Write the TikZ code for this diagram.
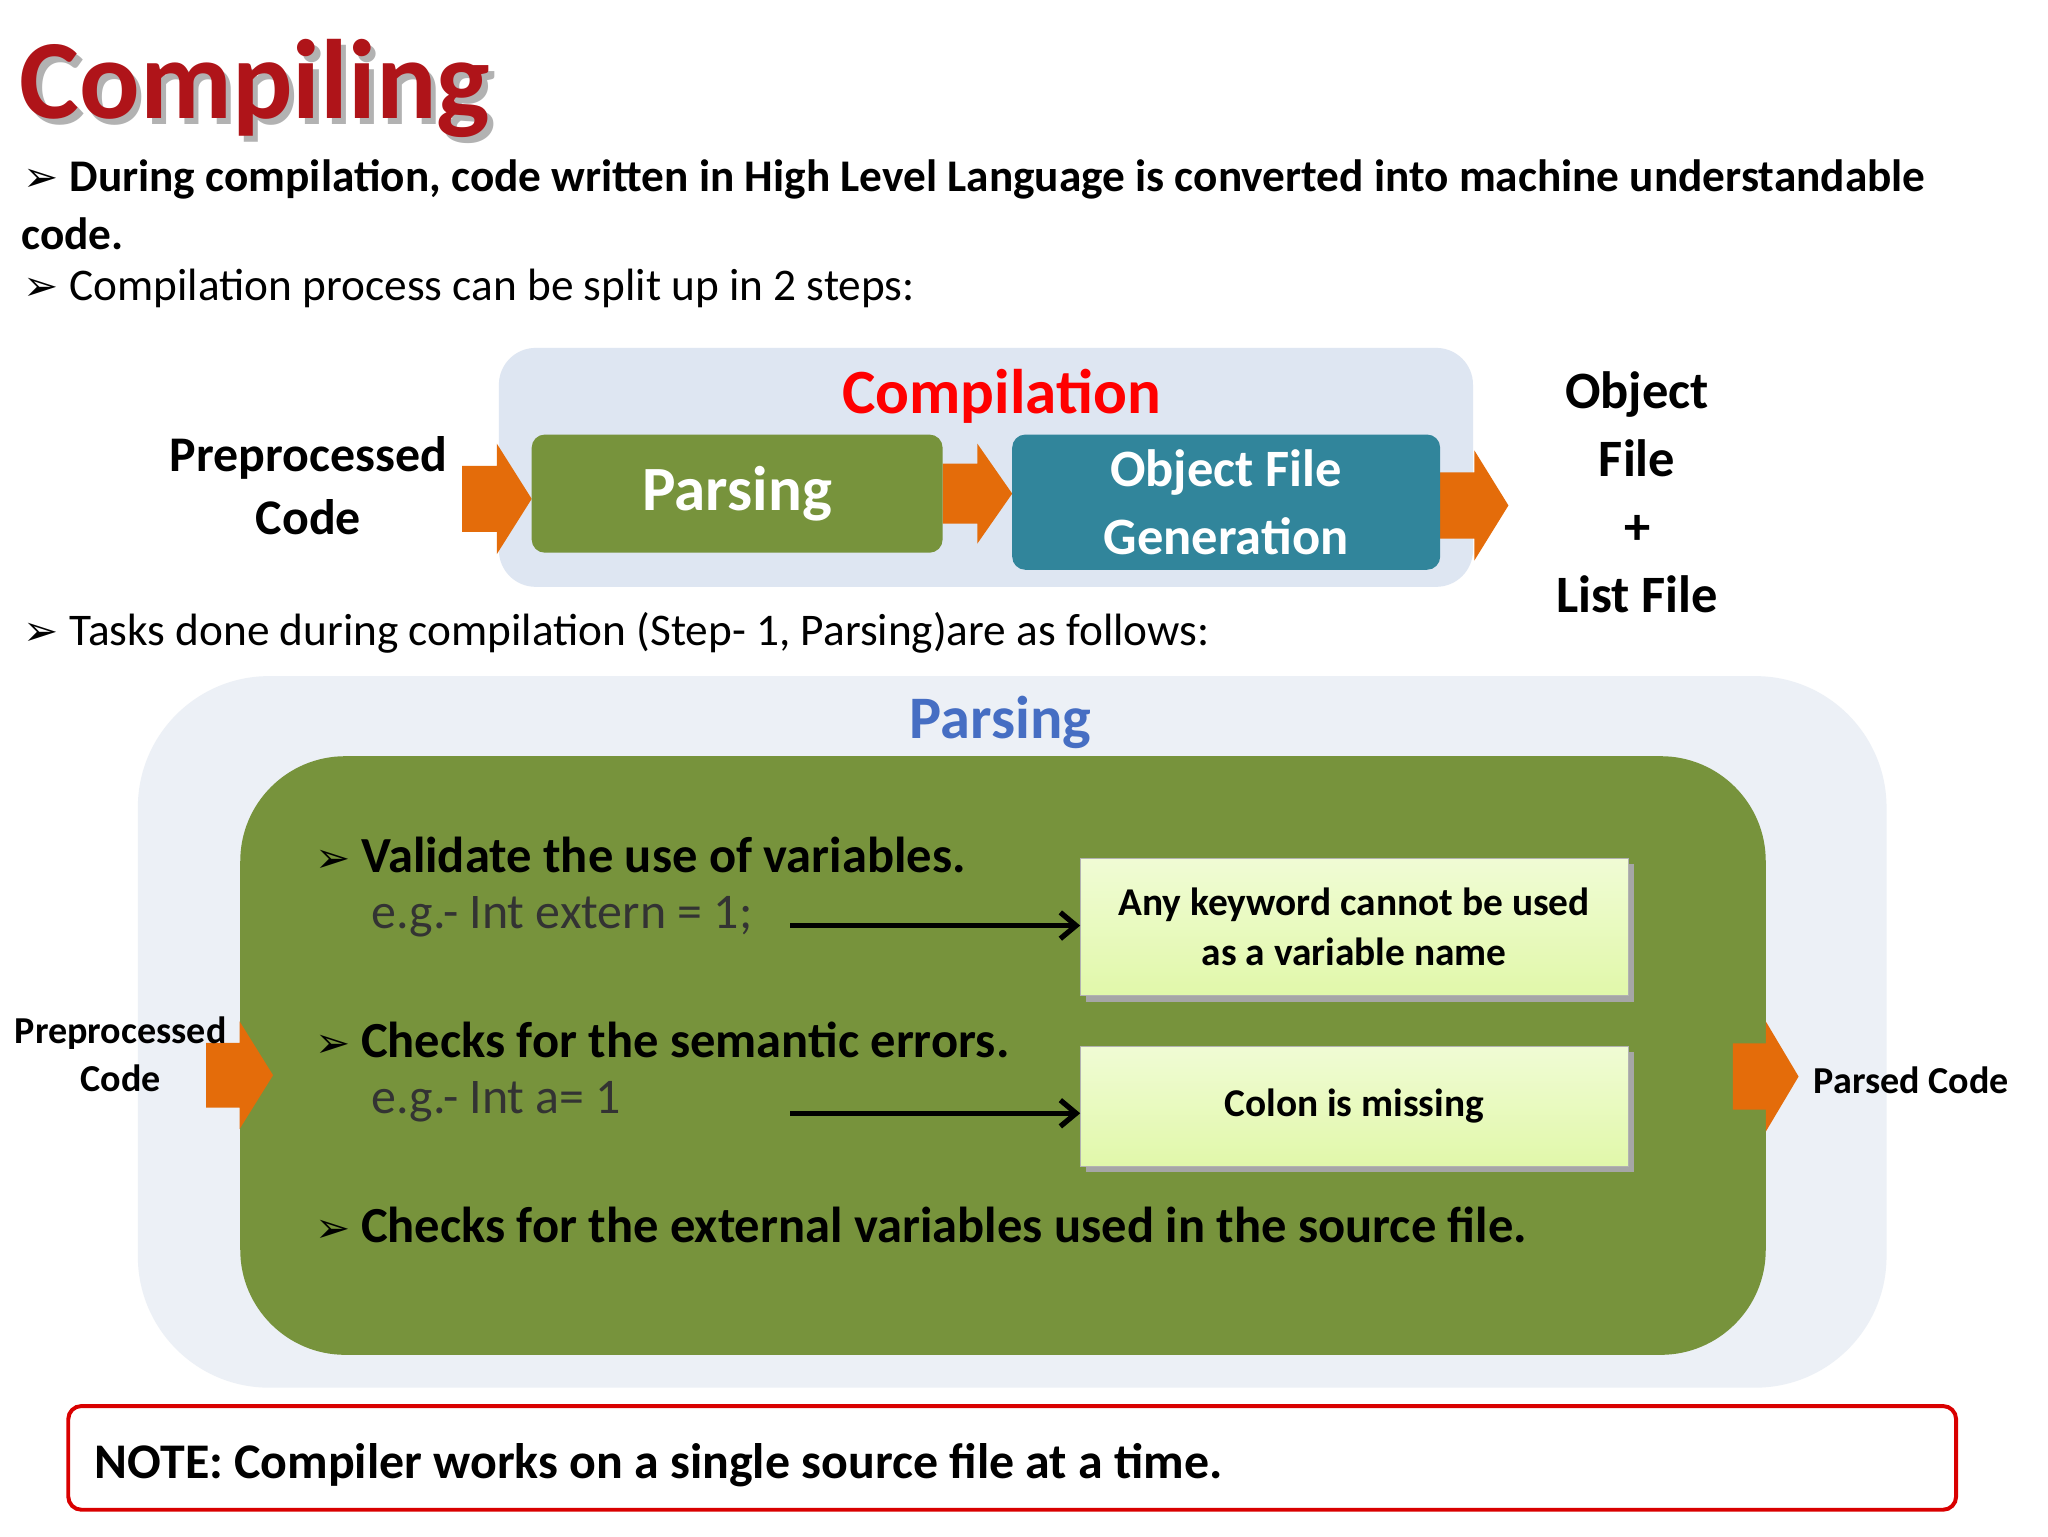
\documentclass[tikz,border=0pt]{standalone}
\usepackage{fontspec}
\setmainfont{Carlito}
\newfontfamily\dv{DejaVu Sans}
\usetikzlibrary{arrows.meta}
\definecolor{orng}{RGB}{228,108,10}
\definecolor{lgblue}{RGB}{222,230,242}
\definecolor{lgbg}{RGB}{236,240,246}
\definecolor{grn}{RGB}{119,147,60}
\definecolor{teal}{RGB}{49,133,155}
\definecolor{ttl}{RGB}{175,20,25}
\definecolor{ltg}{RGB}{225,248,170}
\newcommand{\fs}[1]{\fontsize{#1}{#1}\selectfont}
\newcommand{\bul}{{\dv\fontsize{32}{32}\selectfont ➢}\hspace{8pt}}
% orange arrow: x1 x2 ytop ybottom
\newcommand{\oarr}[4]{\fill[orng] (#1,{(#3+#4)/2-(#4-#3)*0.3}) -- ({(#1+#2)/2},{(#3+#4)/2-(#4-#3)*0.3}) -- ({(#1+#2)/2},#3) -- (#2,{(#3+#4)/2}) -- ({(#1+#2)/2},#4) -- ({(#1+#2)/2},{(#3+#4)/2+(#4-#3)*0.3}) -- (#1,{(#3+#4)/2+(#4-#3)*0.3}) -- cycle;}
\tikzset{
 txt/.style={anchor=west, inner sep=0pt},
 gbox/.style={draw=gray!60, top color=ltg!50!white, bottom color=ltg, align=center, font=\bfseries\fs{30}\linespread{1.25}\selectfont},
 blk/.style={line width=4pt, -{Straight Barb[length=12pt,width=20pt]}}
}
\begin{document}
\begin{tikzpicture}[x=1pt,y=-1pt]
\useasboundingbox (0,0) rectangle (1560,1170);
\fill[white] (0,0) rectangle (1560,1170);
% title
\node[txt, text=black!30] at (19,72) {\bfseries\fs{86}Compiling};
\node[txt, text=ttl] (title) at (15,67) {\bfseries\fs{86}Compiling};
\node[txt] (l1) at (18,137) {\bul\bfseries\fs{34.5}During compilation, code written in High Level Language is converted into machine understandable};
\node[txt] (l1b) at (16,178) {\bfseries\fs{34.5}code.};
\node[txt] (l2) at (18,220) {\bul\fs{34.5}Compilation process can be split up in 2 steps:};
% compilation diagram
\fill[lgblue, rounded corners=28pt] (380,265) rectangle (1122,447);
\node (comp) at (763,302) {\bfseries\fs{48}\textcolor{red}{Compilation}};
\oarr{352}{405}{338}{422}
\oarr{718}{771}{338}{414}
\oarr{1097}{1149}{343}{427}
\node[fill=grn, rounded corners=10pt, minimum width=313pt, minimum height=90pt, text=white] (pars) at (561.5,376) {\bfseries\fs{48}Parsing};
\node[fill=teal, rounded corners=10pt, minimum width=326pt, minimum height=103pt, text=white, align=center, font=\bfseries\fs{40}\linespread{1.3}\selectfont] (ofg) at (934,382.5) {Object File\\Generation};
\node[align=center, font=\bfseries\fs{38}\linespread{1.25}\selectfont] (pc1) at (235,370) {Preprocessed\\Code};
\node[align=center, font=\bfseries\fs{40}\linespread{1.3}\selectfont] (of) at (1247,375) {Object\\File\\+\\List File};
\node[txt] (l3) at (18,482) {\bul\fs{34.5}Tasks done during compilation (Step- 1, Parsing)are as follows:};
% parsing diagram
\fill[lgbg, rounded corners=100pt] (105,515) rectangle (1437,1057);
\node (ptitle) at (762,550) {\bfseries\fs{46}\textcolor[RGB]{70,110,195}{Parsing}};
\fill[grn, rounded corners=80pt] (183,576) rectangle (1345,1032);
\oarr{157}{208}{778}{860}
\oarr{1320}{1370}{778}{862}
\node[txt] (b1) at (240,651) {\bul\bfseries\fs{38.5}Validate the use of variables.};
\node[txt, text=black!80] (e1) at (283,698) {\fs{38}e.g.- Int extern = 1;};
\node[txt] (b2) at (240,792) {\bul\bfseries\fs{38.5}Checks for the semantic errors.};
\node[txt, text=black!80] (e2) at (283,839) {\fs{38}e.g.- Int a= 1};
\node[txt] (b3) at (240,933) {\bul\bfseries\fs{38.5}Checks for the external variables used in the source file.};
\fill[black!35] (827,658) rectangle (1245,763);
\fill[black!35] (827,801) rectangle (1245,893);
\node[gbox, minimum width=417pt, minimum height=104pt] (k1) at (1031.5,706) {Any keyword cannot be used\\as a variable name};
\node[gbox, minimum width=417pt, minimum height=91pt] (k2) at (1031.5,842.5) {Colon is missing};
\coordinate (s1) at (602,705);
\coordinate (s2) at (602,848);
\draw[blk] (s1) -- (s1 -| k1.west);
\draw[blk] (s2) -- (s2 -| k2.west);
\node[align=center, font=\bfseries\fs{29}\linespread{1.25}\selectfont] (pc2) at (92,803) {Preprocessed\\Code};
\node[font=\bfseries\fs{29}] (pcd) at (1456,823) {Parsed Code};
% note
\draw[red!85!black, line width=3pt, rounded corners=10pt, fill=white] (52,1071) rectangle (1490,1150);
\node[txt] (note) at (72,1116) {\bfseries\fs{38}NOTE: Compiler works on a single source file at a time.};
\end{tikzpicture}
\end{document}
